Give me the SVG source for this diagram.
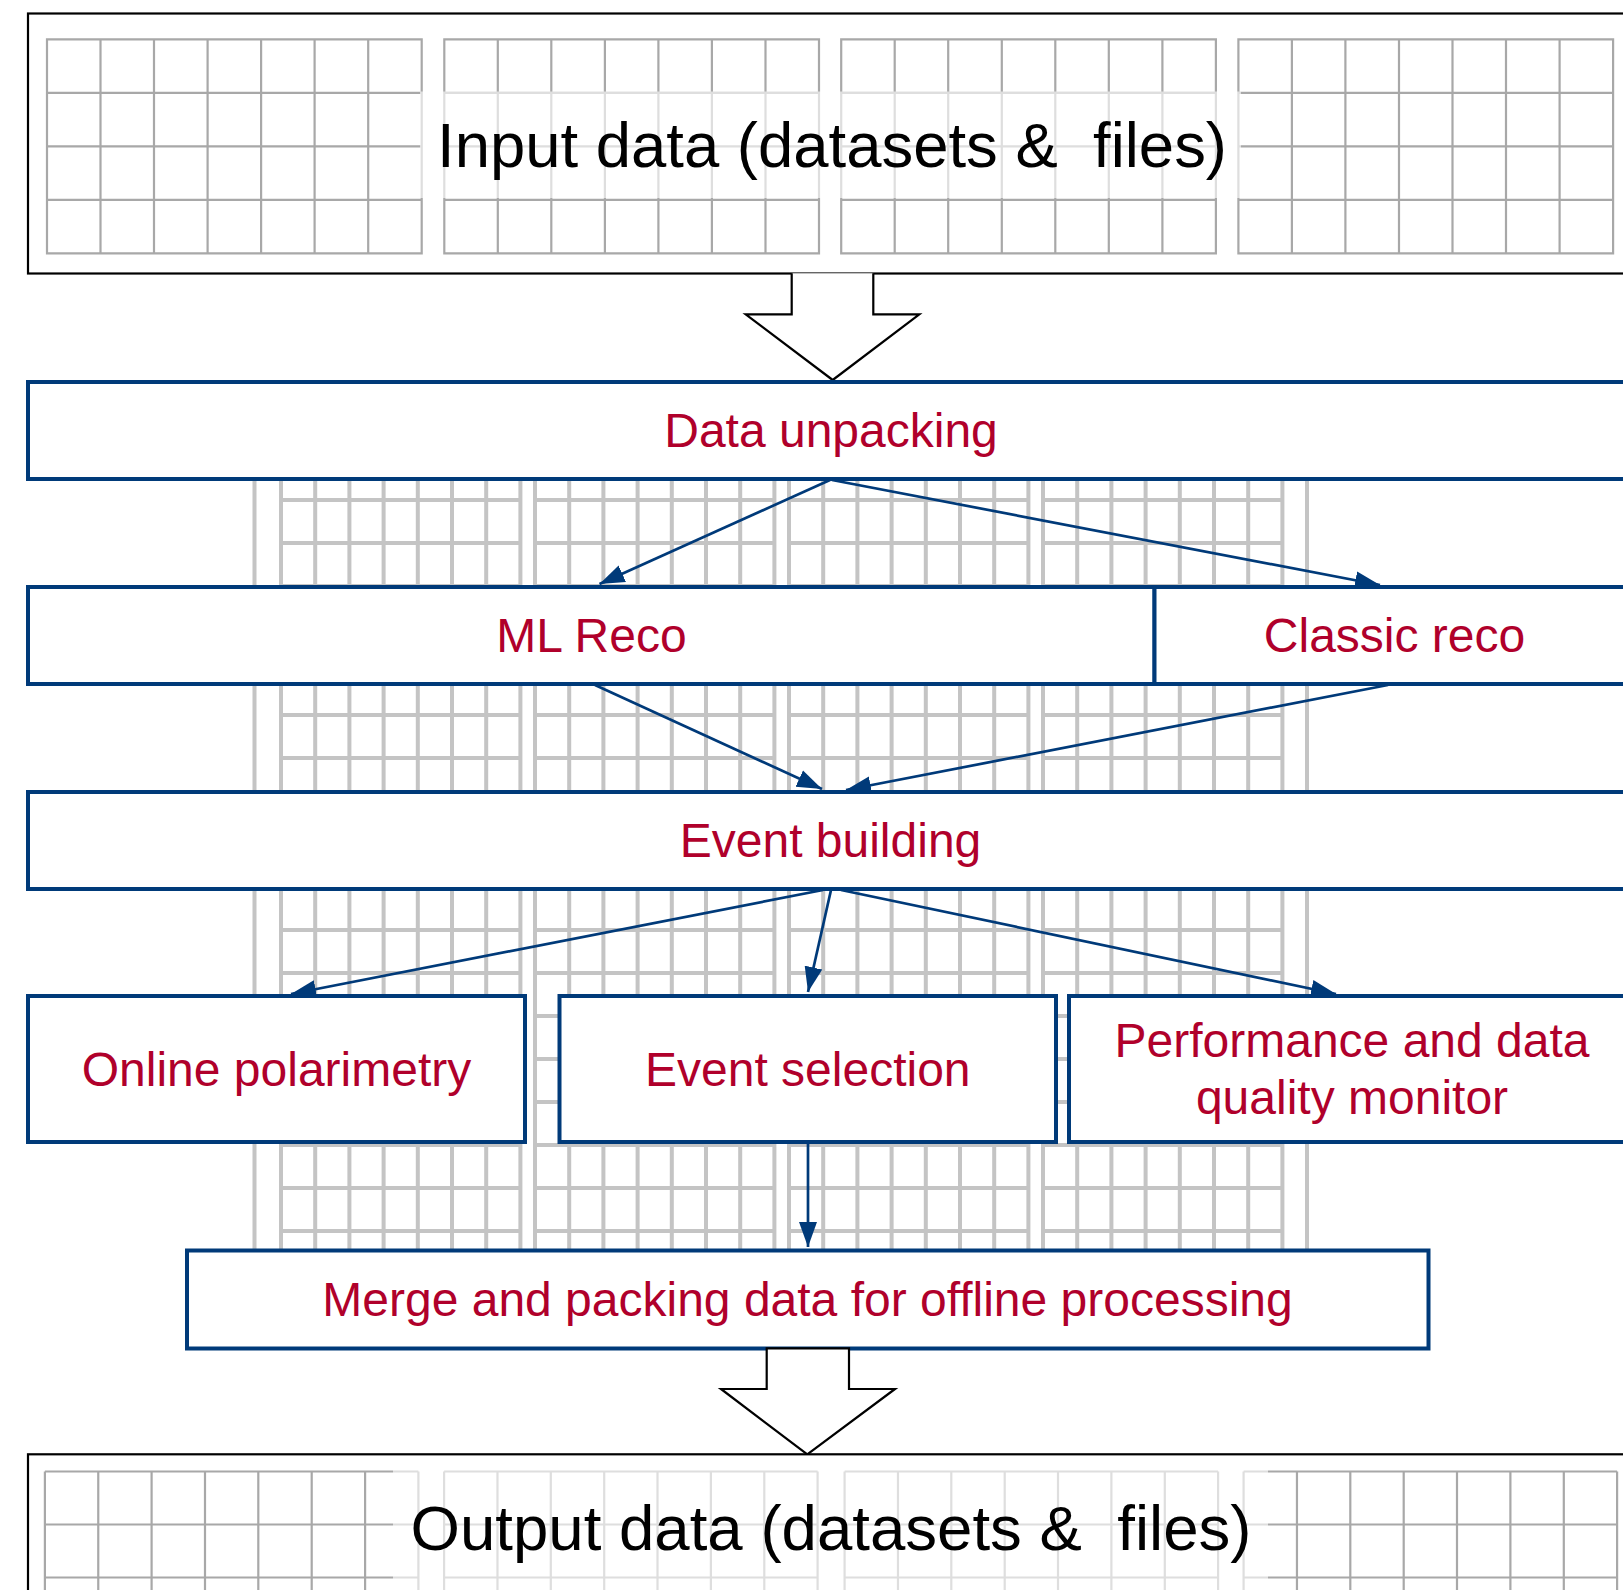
<svg xmlns="http://www.w3.org/2000/svg" xmlns:xlink="http://www.w3.org/1999/xlink" width="1623" height="1590" viewBox="0 0 1623 1590">
<style>
.frame{fill:#fff;stroke:#000;stroke-width:2.2}
.tg{fill:none;stroke:#a8a8a8;stroke-width:2.2}
.bg{fill:none;stroke:#c4c4c4;stroke-width:4}
.veil{fill:#fff;fill-opacity:0.62}
.big{font-family:"Liberation Sans",Arial,Helvetica,sans-serif;font-size:63px;fill:#000}
.box{fill:#fff;stroke:#003a79;stroke-width:4}
.lbl{font-family:"Liberation Sans",Arial,Helvetica,sans-serif;font-size:48px;fill:#b0002b;text-anchor:middle}
.con{fill:none;stroke:#003a79;stroke-width:2.7}
.hollow{fill:#fff;stroke:#000;stroke-width:2.2;stroke-linejoin:miter}
</style>
<defs>
<marker id="ah" markerUnits="userSpaceOnUse" markerWidth="27" markerHeight="20" refX="25" refY="9" orient="auto" viewBox="0 0 27 18">
<path d="M0,0 L25,9 L0,18 z" fill="#003a79"/>
</marker>
<g id="topgrid">
<path class="tg" d="M0 0H374.7V214H0Z M53.5 0V214 M107 0V214 M160.6 0V214 M214.1 0V214 M267.6 0V214 M321.2 0V214 M0 53.5H374.7 M0 107H374.7 M0 160.5H374.7"/>
</g>
<g id="outgrid">
<path class="tg" d="M0 0H373.5 M0 53H373.5 M0 106H373.5 M0 0V160 M53.36 0V160 M106.7 0V160 M160.1 0V160 M213.4 0V160 M266.8 0V160 M320.2 0V160 M373.5 0V160"/>
</g>
<g id="bgblock">
<path class="bg" d="M0 470V1262 M34.2 470V1262 M68.4 470V1262 M102.6 470V1262 M136.8 470V1262 M171 470V1262 M205.2 470V1262 M239.4 470V1262
M0 500H239.4 M0 543H239.4 M0 586H239.4 M0 629H239.4 M0 672H239.4 M0 715H239.4 M0 758H239.4 M0 801H239.4 M0 844H239.4 M0 887H239.4 M0 930H239.4 M0 973H239.4 M0 1016H239.4 M0 1059H239.4 M0 1102H239.4 M0 1145H239.4 M0 1188H239.4 M0 1231H239.4"/>
</g>
</defs>

<g id="input-data">
<rect class="frame" x="28" y="13.5" width="1610" height="260"/>
<use xlink:href="#topgrid" x="47" y="39.3"/>
<use xlink:href="#topgrid" x="444.3" y="39.3"/>
<use xlink:href="#topgrid" x="841.2" y="39.3"/>
<use xlink:href="#topgrid" x="1238.4" y="39.3"/>
<rect class="veil" x="420" y="91.5" width="821" height="106.5"/>
<text class="big" x="832" y="166.5" text-anchor="middle" xml:space="preserve" textLength="790" lengthAdjust="spacingAndGlyphs">Input data (datasets &amp;  files)</text>
</g>

<g id="arrow-in">
<path class="hollow" d="M791.7 273.3V314.3H745.7L832.7 380L919.3 314.3H873.3V273.3"/>
</g>

<g id="background-grid">
<path class="bg" d="M254.5 470V1262 M1307 470V1262"/>
<use xlink:href="#bgblock" x="281" y="0"/>
<use xlink:href="#bgblock" x="535" y="0"/>
<use xlink:href="#bgblock" x="789" y="0"/>
<use xlink:href="#bgblock" x="1043" y="0"/>
</g>

<g id="data-unpacking">
<rect class="box" x="28" y="382" width="1610" height="97"/>
<text class="lbl" x="831" y="447">Data unpacking</text>
</g>

<g id="ml-reco">
<rect class="box" x="28" y="587" width="1126.5" height="97"/>
<text class="lbl" x="591.5" y="652">ML Reco</text>
</g>

<g id="classic-reco">
<rect class="box" x="1154.5" y="587" width="484" height="97"/>
<text class="lbl" x="1394.5" y="652">Classic reco</text>
</g>

<g id="event-building">
<rect class="box" x="28" y="792" width="1610" height="97"/>
<text class="lbl" x="830.5" y="857">Event building</text>
</g>

<g id="online-polarimetry">
<rect class="box" x="28" y="996" width="497" height="146"/>
<text class="lbl" x="276.5" y="1086">Online polarimetry</text>
</g>

<g id="event-selection">
<rect class="box" x="559.5" y="996" width="496.5" height="146"/>
<text class="lbl" x="807.8" y="1086">Event selection</text>
</g>

<g id="performance-monitor">
<rect class="box" x="1069" y="996" width="570" height="146"/>
<text class="lbl" x="1352" y="1057">Performance and data</text>
<text class="lbl" x="1352" y="1114">quality monitor</text>
</g>

<g id="merge-packing">
<rect class="box" x="187" y="1250.5" width="1241.5" height="98"/>
<text class="lbl" x="807.5" y="1316">Merge and packing data for offline processing</text>
</g>

<g id="connectors">
<line class="con" x1="830" y1="480" x2="599.5" y2="584" marker-end="url(#ah)"/>
<line class="con" x1="832" y1="480" x2="1380" y2="585" marker-end="url(#ah)"/>
<line class="con" x1="595" y1="685" x2="822" y2="789" marker-end="url(#ah)"/>
<line class="con" x1="1388" y1="685" x2="846" y2="790" marker-end="url(#ah)"/>
<line class="con" x1="823" y1="890" x2="291" y2="994" marker-end="url(#ah)"/>
<line class="con" x1="831" y1="890" x2="808" y2="992" marker-end="url(#ah)"/>
<line class="con" x1="841" y1="890" x2="1336" y2="994" marker-end="url(#ah)"/>
<line class="con" x1="808" y1="1143" x2="808" y2="1247" marker-end="url(#ah)"/>
</g>

<g id="arrow-out">
<path class="hollow" d="M766.7 1348.3V1389H721L807.3 1454.3L895 1389H849V1348.3Z"/>
</g>

<g id="output-data">
<rect class="frame" x="28" y="1454.3" width="1610" height="200"/>
<use xlink:href="#outgrid" x="44.9" y="1471.5"/>
<use xlink:href="#outgrid" x="444.1" y="1471.5"/>
<use xlink:href="#outgrid" x="844.6" y="1471.5"/>
<use xlink:href="#outgrid" x="1243.6" y="1471.5"/>
<rect class="veil" x="393" y="1463" width="875" height="140"/>
<text class="big" x="831" y="1550" text-anchor="middle" xml:space="preserve" textLength="841" lengthAdjust="spacingAndGlyphs">Output data (datasets &amp;  files)</text>
</g>
</svg>
